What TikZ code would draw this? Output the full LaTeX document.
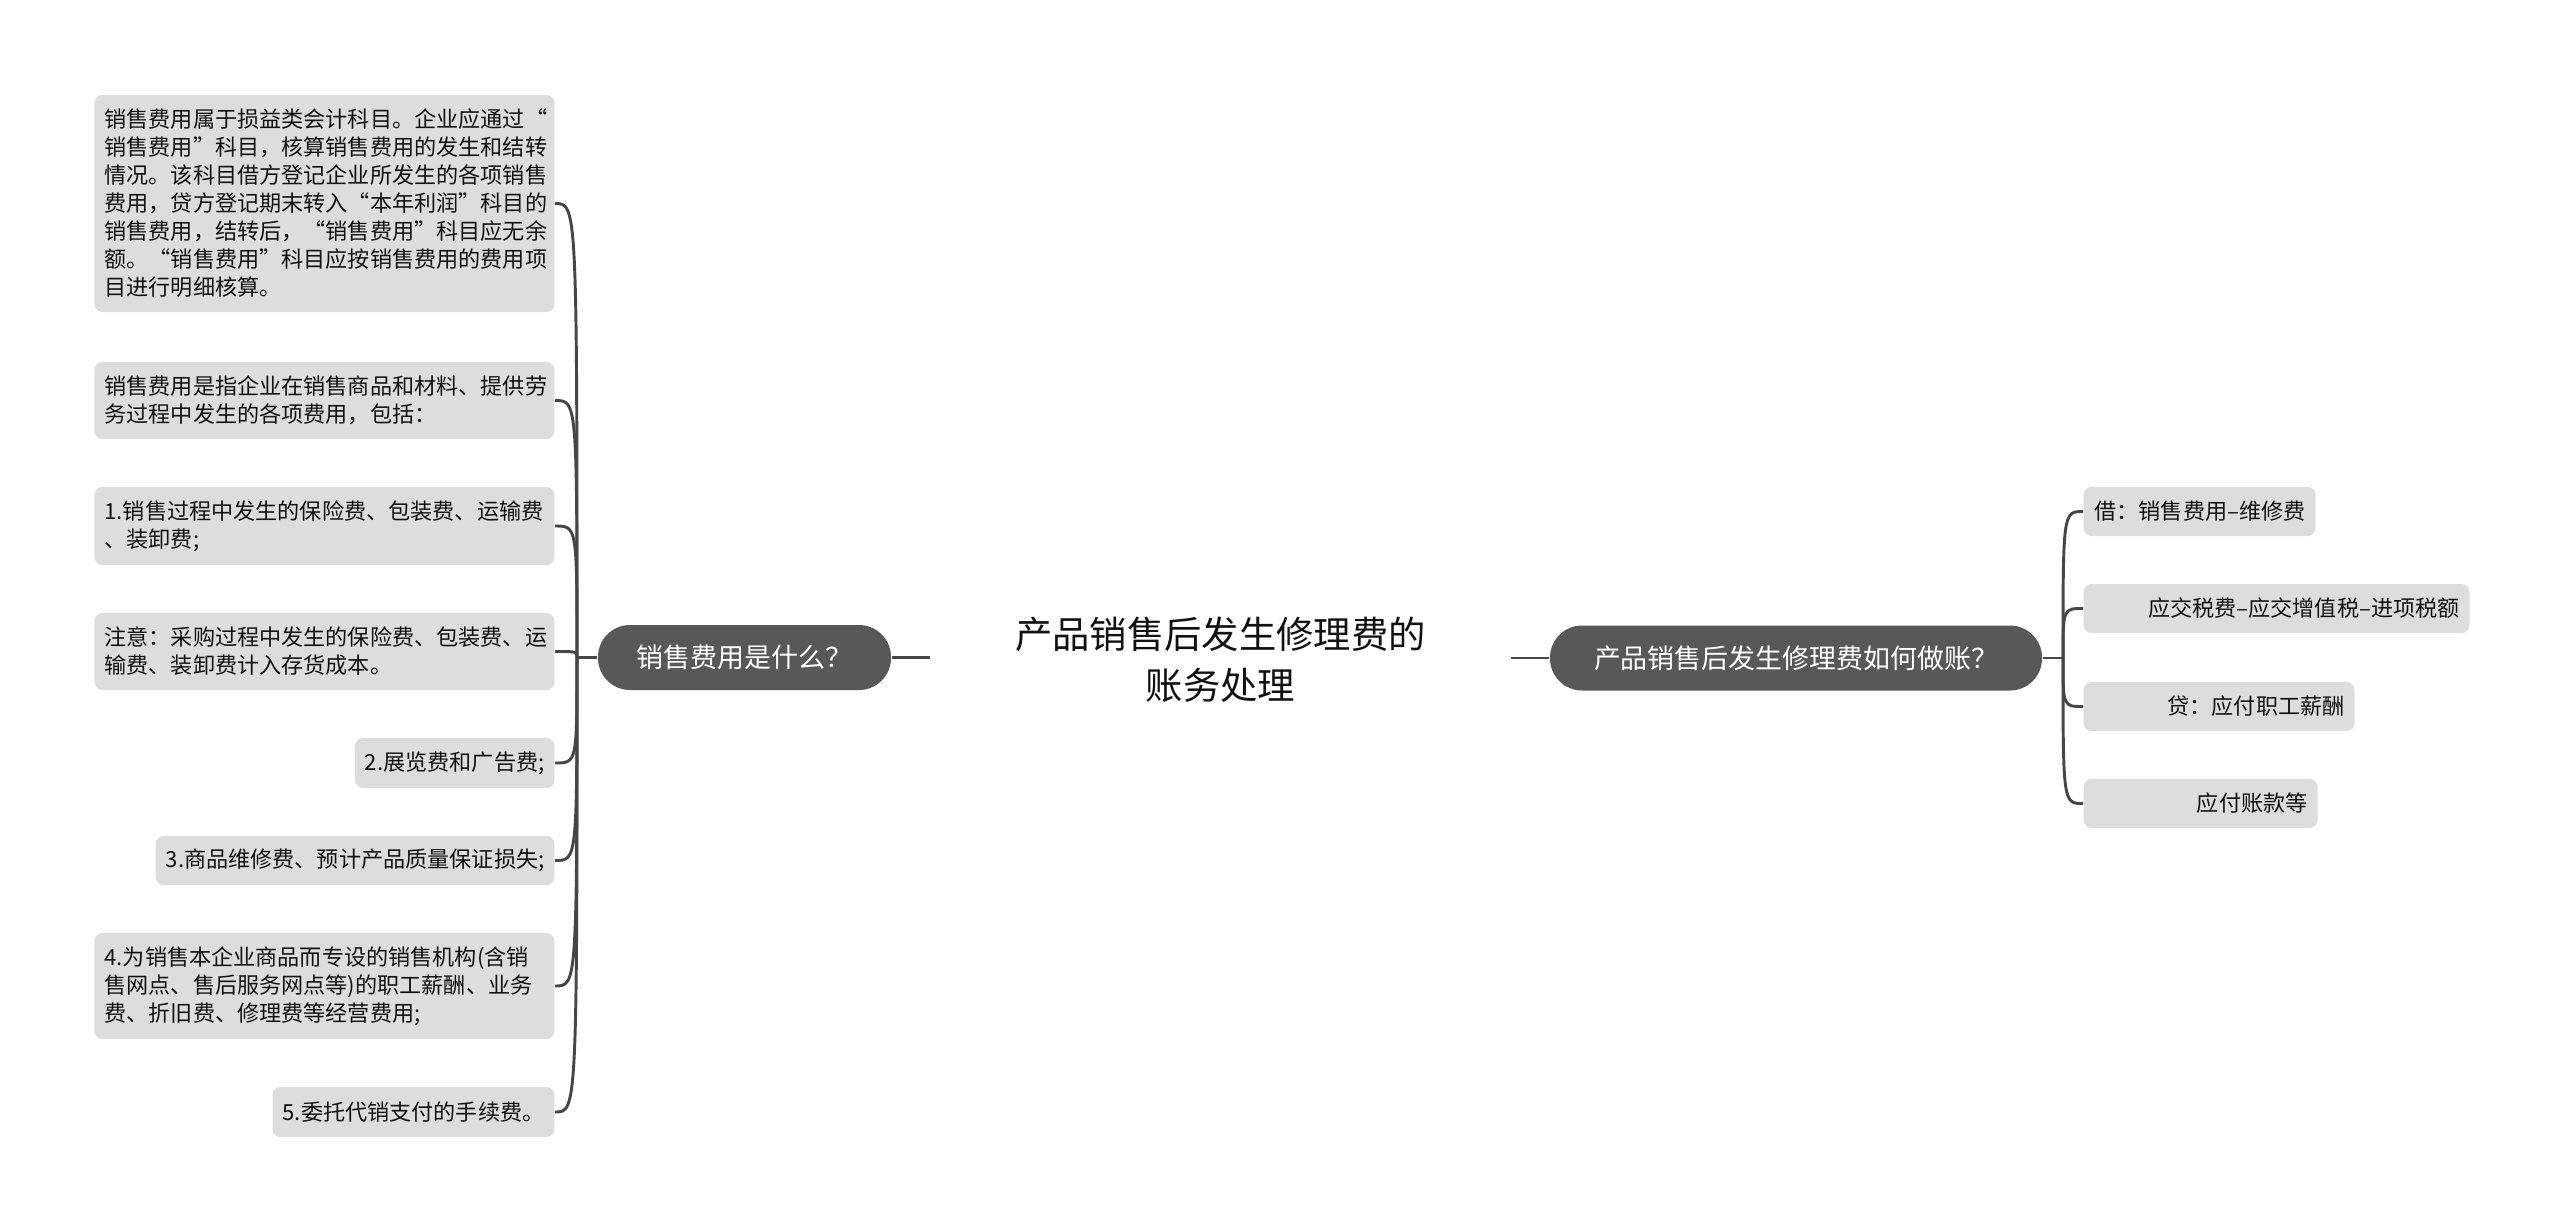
\documentclass[tikz,border=0pt]{standalone}
\usepackage{fontspec}
\setmainfont{Noto Sans CJK SC}
\definecolor{linec}{HTML}{464646}
\definecolor{leaff}{HTML}{DDDDDD}
\definecolor{branchf}{HTML}{585858}
\definecolor{txt}{HTML}{111111}
\tikzset{
  leaf/.style={fill=leaff, rounded corners=3pt, inner xsep=3.75pt, inner ysep=1pt,
    font=\fontsize{8.3pt}{10.5pt}\selectfont, text=txt},
  wideleaf/.style={leaf, text width=165pt, align=left},
  branch/.style={fill=branchf, text=white, rounded corners=12pt, minimum height=24.375pt,
    font=\fontsize{10.1pt}{12pt}\selectfont, inner xsep=0pt},
  conn/.style={draw=linec, line width=1.1pt},
}
\begin{document}
\begin{tikzpicture}[x=0.375pt,y=-0.375pt]
\useasboundingbox (0,0) rectangle (2560,1231);

% central title
\node[font=\fontsize{14pt}{19.1pt}\selectfont, align=center, minimum width=217.125pt,
      inner sep=0pt, text=txt] (root) at (1220.5,660)
  {产品销售后发生修理费的\\账务处理};

% branch nodes
\node[branch, minimum width=109.875pt] (lq) at (744.5,657.5) {销售费用是什么？};
\node[branch, minimum width=184.5pt] (rq) at (1796,658) {产品销售后发生修理费如何做账？};

\coordinate (L) at (577,657.5);
\coordinate (R) at (2063,658);

% left leaves
\node[wideleaf, anchor=east, minimum height=81.375pt] (b1) at (555,203.5)
  {销售费用属于损益类会计科目。企业应通过“\\
   销售费用”科目，核算销售费用的发生和结转\\
   情况。该科目借方登记企业所发生的各项销售\\
   费用，贷方登记期末转入“本年利润”科目的\\
   销售费用，结转后，“销售费用”科目应无余\\
   额。“销售费用”科目应按销售费用的费用项\\
   目进行明细核算。};
\node[wideleaf, anchor=east, minimum height=28.875pt] (b2) at (555,400.5)
  {销售费用是指企业在销售商品和材料、提供劳\\务过程中发生的各项费用，包括：};
\node[wideleaf, anchor=east, minimum height=29.25pt] (b3) at (555,526)
  {1.销售过程中发生的保险费、包装费、运输费\\、装卸费;};
\node[wideleaf, anchor=east, minimum height=28.875pt] (b4) at (555,651.5)
  {注意：采购过程中发生的保险费、包装费、运\\输费、装卸费计入存货成本。};
\node[leaf, anchor=east, minimum height=18.75pt] (b5) at (555,763)
  {2.展览费和广告费;};
\node[leaf, anchor=east, minimum height=18.375pt] (b6) at (555,860.5)
  {3.商品维修费、预计产品质量保证损失;};
\node[wideleaf, anchor=east, minimum height=39.75pt] (b7) at (555,986)
  {4.为销售本企业商品而专设的销售机构(含销\\
   售网点、售后服务网点等)的职工薪酬、业务\\
   费、折旧费、修理费等经营费用;};
\node[leaf, anchor=east, minimum height=18.75pt] (b8) at (555,1112)
  {5.委托代销支付的手续费。};

% right leaves
\node[leaf, anchor=west, minimum height=18.375pt, text width=79.5pt, align=right] (r1)
  at (2083,511.5) {借：销售费用–维修费};
\node[leaf, anchor=west, minimum height=18.375pt, text width=137.25pt, align=right] (r2)
  at (2083,608.5) {应交税费–应交增值税–进项税额};
\node[leaf, anchor=west, minimum height=18.375pt, text width=94.125pt, align=right] (r3)
  at (2083,706.5) {贷：应付职工薪酬};
\node[leaf, anchor=west, minimum height=18.375pt, text width=80.25pt, align=right] (r4)
  at (2083,803.5) {应付账款等};

% connectors
\draw[conn] (lq.east) -- (lq.east -| root.west);
\draw[conn] (rq.west -| root.east) -- (rq.west);
\draw[conn] (lq.west) -- (L);
\draw[conn] (rq.east) -- (R);
\foreach \b in {b1,b2,b3,b4,b5,b6,b7,b8}
  \draw[conn] (L) .. controls (L |- \b.east) .. (\b.east);
\foreach \r in {r1,r2,r3,r4}
  \draw[conn] (R) .. controls (R |- \r.west) .. (\r.west);
\end{tikzpicture}
\end{document}
